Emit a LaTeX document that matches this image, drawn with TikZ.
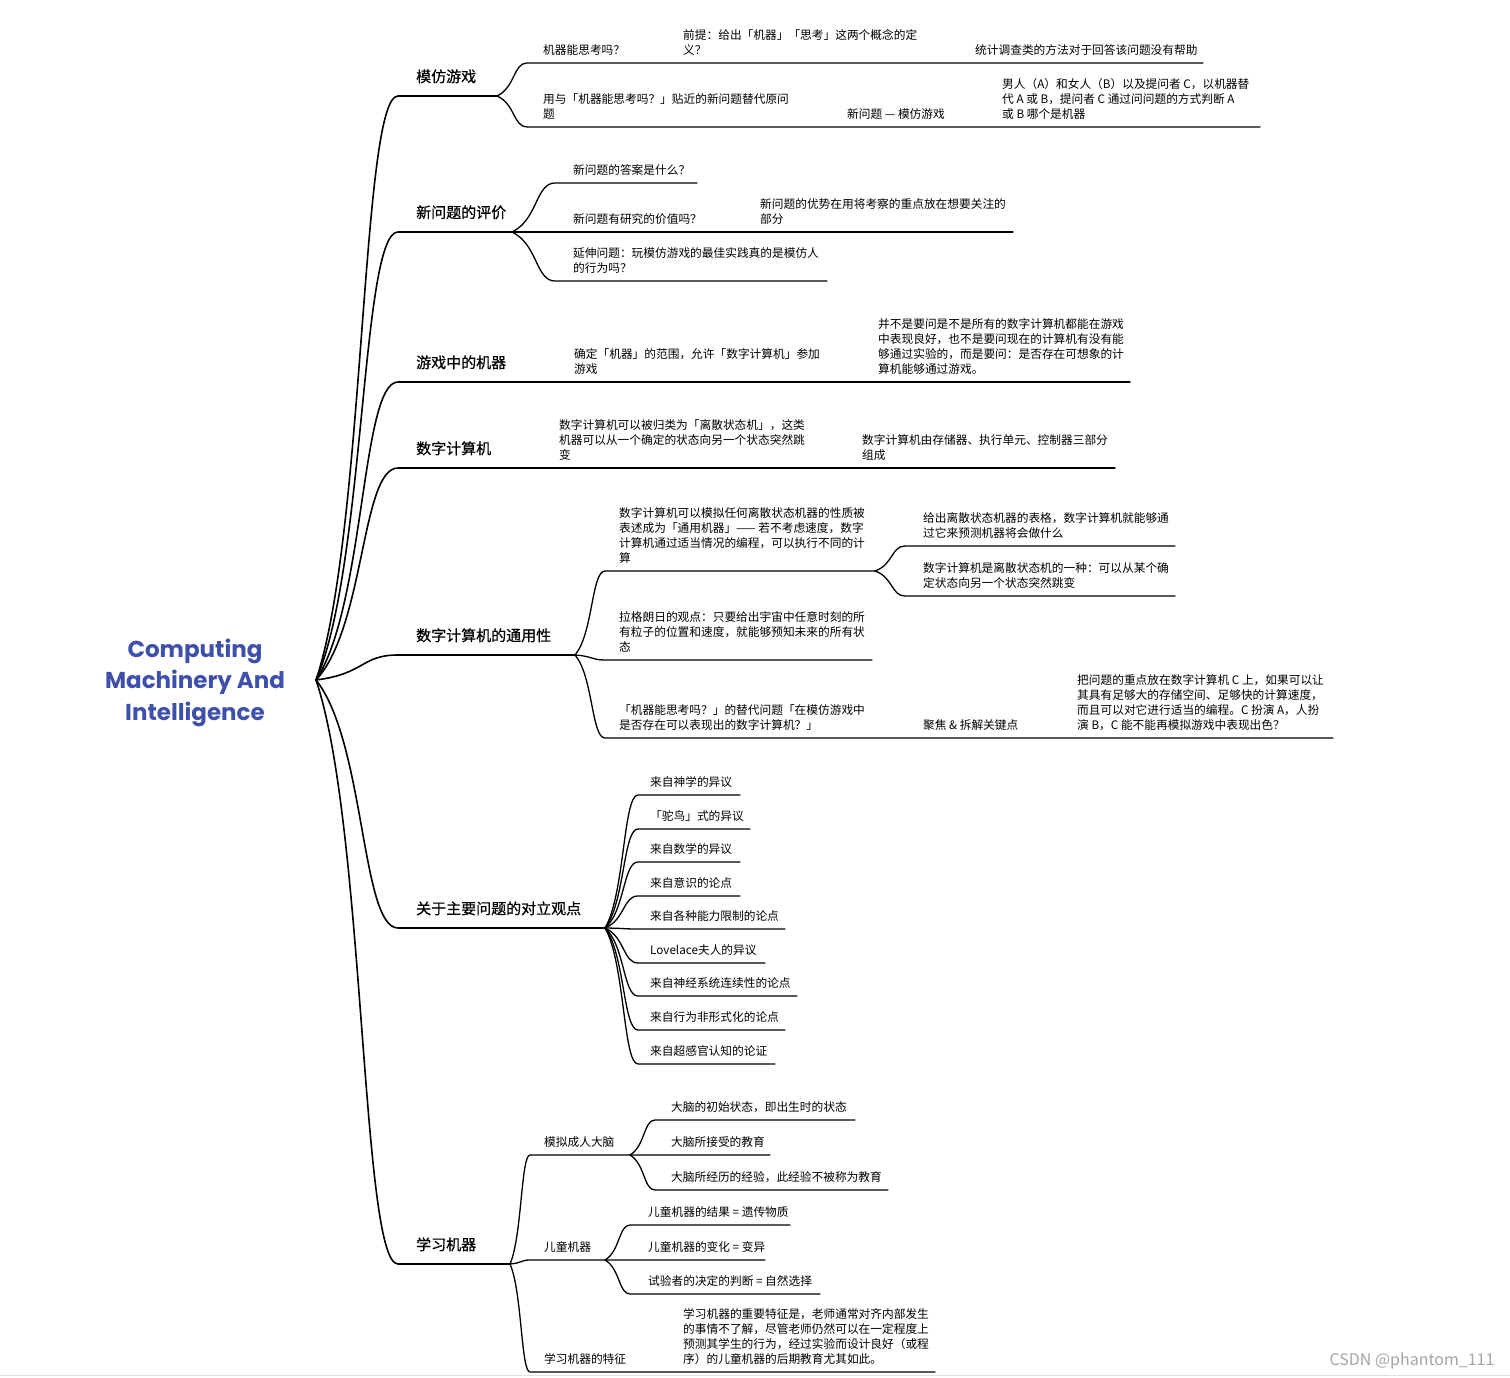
\documentclass[tikz,border=0pt]{standalone}
\usepackage{fontspec}
\setmainfont{Noto Sans CJK SC}
\newfontfamily\lonefont[FakeBold=0.6]{Noto Sans CJK SC}
\newfontfamily\titlefont{Poppins}
\usetikzlibrary{calc}
\definecolor{titleblue}{RGB}{62,80,170}
\tikzset{
  br/.style={to path={let \p1=(\tikztostart),\p2=(\tikztotarget) in
     .. controls ({\x1+0.6*(\x2-\x1)},{\y1+0.25*(\y2-\y1)}) and ({\x1+0.55*(\x2-\x1)},{\y2}) .. (\tikztotarget)}},
  mainln/.style={line width=1.6pt, line cap=round},
  ln/.style={line width=1.3pt, line cap=round},
  lone/.style={font=\lonefont\fontsize{15}{18}\selectfont, anchor=south west, inner sep=0pt},
  tx/.style={font=\fontsize{11.7}{15}\selectfont, anchor=south west, inner sep=0pt, align=left},
  titlenode/.style={font=\titlefont\bfseries\fontsize{23}{31.5}\selectfont, text=titleblue, align=center, inner sep=0pt},
  wmark/.style={font=\fontsize{16}{18}\selectfont, text=black!35, inner sep=0pt}
}
\begin{document}
\begin{tikzpicture}[x=1pt,y=-1pt]
\useasboundingbox (0,0) rectangle (1510,1378);
\fill[white] (0,0) rectangle (1510,1378);

% root
\node[titlenode] (root) at (195,682.5) {Computing\\Machinery And\\Intelligence};
\coordinate (r) at (316,680);

% level-1 coordinates
\coordinate (a1) at (398,96);   \coordinate (a1e) at (497,96);
\coordinate (a2) at (398,232);  \coordinate (a2e) at (512,232);  \coordinate (b22e) at (1013,232);
\coordinate (a3) at (398,382);  \coordinate (a3m) at (512,382);  \coordinate (a3e) at (1130,382);
\coordinate (a4) at (398,468);  \coordinate (a4m) at (510,468);  \coordinate (a4e) at (1115,468);
\coordinate (a5) at (398,655);  \coordinate (a5e) at (575,655);
\coordinate (a6) at (398,928);  \coordinate (a6e) at (605,928);
\coordinate (a7) at (398,1264); \coordinate (a7e) at (510,1264);

\draw[mainln] (r) to[br] (a1) -- (a1e);
\draw[mainln] (r) to[br] (a2) -- (a2e);
\draw[mainln] (r) to[br] (a3) -- (a3m);
\draw[mainln] (r) to[br] (a4) -- (a4m);
\draw[mainln] (r) to[br] (a5) -- (a5e);
\draw[mainln] (r) to[br] (a6) -- (a6e);
\draw[mainln] (r) to[br] (a7) -- (a7e);

\node[lone] (t1) at (416,83.5) {模仿游戏};
\node[lone] (t2) at (416,219.5) {新问题的评价};
\node[lone] (t3) at (416,369.5) {游戏中的机器};
\node[lone] (t4) at (416,455.5) {数字计算机};
\node[lone] (t5) at (416,642.5) {数字计算机的通用性};
\node[lone] (t6) at (416,915.5) {关于主要问题的对立观点};
\node[lone] (t7) at (416,1251.5) {学习机器};

% branch 1
\coordinate (b11) at (527,63);  \coordinate (b11e) at (1203,63);
\coordinate (b12) at (527,127); \coordinate (b12e) at (1260,127);
\draw[ln] (a1e) to[br] (b11) -- (b11e);
\draw[ln] (a1e) to[br] (b12) -- (b12e);
\node[tx] (n11) at (543,55.5) {机器能思考吗？};
\node[tx] (n111) at (683,55.5) {前提：给出「机器」「思考」这两个概念的定\\义？};
\node[tx] (n1111) at (975,55.5) {统计调查类的方法对于回答该问题没有帮助};
\node[tx] (n12) at (543,119.5) {用与「机器能思考吗？」贴近的新问题替代原问\\题};
\node[tx] (n121) at (847,119.5) {新问题 — 模仿游戏};
\node[tx] (n1211) at (1002,119.5) {男人（A）和女人（B）以及提问者 C，以机器替\\代 A 或 B，提问者 C 通过问问题的方式判断 A\\或 B 哪个是机器};

% branch 2
\coordinate (b21) at (555,183); \coordinate (b21e) at (697,183);
\coordinate (b23) at (555,281); \coordinate (b23e) at (827,281);
\draw[ln] (a2e) to[br] (b21) -- (b21e);
\draw[ln] (a2e) -- (b22e);
\draw[ln] (a2e) to[br] (b23) -- (b23e);
\node[tx] (n21) at (573,175.5) {新问题的答案是什么？};
\node[tx] (n22) at (573,224.5) {新问题有研究的价值吗？};
\node[tx] (n221) at (760,224.5) {新问题的优势在用将考察的重点放在想要关注的\\部分};
\node[tx] (n23) at (573,273.5) {延伸问题：玩模仿游戏的最佳实践真的是模仿人\\的行为吗？};

% branch 3
\draw[ln] (a3m) -- (a3e);
\node[tx] (n31) at (574,374.5) {确定「机器」的范围，允许「数字计算机」参加\\游戏};
\node[tx] (n311) at (878,374.5) {并不是要问是不是所有的数字计算机都能在游戏\\中表现良好，也不是要问现在的计算机有没有能\\够通过实验的，而是要问：是否存在可想象的计\\算机能够通过游戏。};

% branch 4
\draw[ln] (a4m) -- (a4e);
\node[tx] (n41) at (559,460.5) {数字计算机可以被归类为「离散状态机」，这类\\机器可以从一个确定的状态向另一个状态突然跳\\变};
\node[tx] (n411) at (862,460.5) {数字计算机由存储器、执行单元、控制器三部分\\组成};

% branch 5
\coordinate (b51) at (605,571); \coordinate (b51e) at (875,571);
\coordinate (b52) at (605,660); \coordinate (b52e) at (872,660);
\coordinate (b53) at (605,738); \coordinate (b53e) at (1333,738);
\coordinate (c511) at (905,546); \coordinate (c511e) at (1175,546);
\coordinate (c512) at (905,596); \coordinate (c512e) at (1175,596);
\draw[ln] (a5e) to[br] (b51) -- (b51e);
\draw[ln] (a5e) to[br] (b52) -- (b52e);
\draw[ln] (a5e) to[br] (b53) -- (b53e);
\draw[ln] (b51e) to[br] (c511) -- (c511e);
\draw[ln] (b51e) to[br] (c512) -- (c512e);
\node[tx] (n51) at (619,563.5) {数字计算机可以模拟任何离散状态机器的性质被\\表述成为「通用机器」—— 若不考虑速度，数字\\计算机通过适当情况的编程，可以执行不同的计\\算};
\node[tx] (n511) at (923,538.5) {给出离散状态机器的表格，数字计算机就能够通\\过它来预测机器将会做什么};
\node[tx] (n512) at (923,588.5) {数字计算机是离散状态机的一种：可以从某个确\\定状态向另一个状态突然跳变};
\node[tx] (n52) at (619,652.5) {拉格朗日的观点：只要给出宇宙中任意时刻的所\\有粒子的位置和速度，就能够预知未来的所有状\\态};
\node[tx] (n53) at (619,730.5) {「机器能思考吗？」的替代问题「在模仿游戏中\\是否存在可以表现出的数字计算机？」};
\node[tx] (n531) at (923,730.5) {聚焦 \& 拆解关键点};
\node[tx] (n5311) at (1077,730.5) {把问题的重点放在数字计算机 C 上，如果可以让\\其具有足够大的存储空间、足够快的计算速度，\\而且可以对它进行适当的编程。C 扮演 A，人扮\\演 B，C 能不能再模拟游戏中表现出色？};

% branch 6
\coordinate (b61) at (638,795);  \coordinate (b61e) at (740,795);
\coordinate (b62) at (638,829);  \coordinate (b62e) at (750,829);
\coordinate (b63) at (638,862);  \coordinate (b63e) at (740,862);
\coordinate (b64) at (638,896);  \coordinate (b64e) at (740,896);
\coordinate (b65) at (638,929);  \coordinate (b65e) at (785,929);
\coordinate (b66) at (638,963);  \coordinate (b66e) at (765,963);
\coordinate (b67) at (638,996);  \coordinate (b67e) at (797,996);
\coordinate (b68) at (638,1030); \coordinate (b68e) at (785,1030);
\coordinate (b69) at (638,1064); \coordinate (b69e) at (775,1064);
\foreach \k in {1,...,9} { \draw[ln] (a6e) to[br] (b6\k) -- (b6\k e); }
\node[tx] (n61) at (650,787.5) {来自神学的异议};
\node[tx] (n62) at (650,821.5) {「驼鸟」式的异议};
\node[tx] (n63) at (650,854.5) {来自数学的异议};
\node[tx] (n64) at (650,888.5) {来自意识的论点};
\node[tx] (n65) at (650,921.5) {来自各种能力限制的论点};
\node[tx] (n66) at (650,955.5) {Lovelace夫人的异议};
\node[tx] (n67) at (650,988.5) {来自神经系统连续性的论点};
\node[tx] (n68) at (650,1022.5) {来自行为非形式化的论点};
\node[tx] (n69) at (650,1056.5) {来自超感官认知的论证};

% branch 7
\coordinate (b71) at (530,1155); \coordinate (b71m) at (630,1155); \coordinate (b71e) at (770,1155);
\coordinate (b72) at (530,1260); \coordinate (b72m) at (605,1260); \coordinate (b72e) at (765,1260);
\coordinate (b73) at (530,1372); \coordinate (b73e) at (935,1372);
\coordinate (c711) at (655,1120); \coordinate (c711e) at (855,1120);
\coordinate (c713) at (655,1190); \coordinate (c713e) at (888,1190);
\coordinate (c721) at (630,1225); \coordinate (c721e) at (790,1225);
\coordinate (c723) at (630,1294); \coordinate (c723e) at (820,1294);
\draw[ln] (a7e) to[br] (b71) -- (b71e);
\draw[ln] (a7e) to[br] (b72) -- (b72e);
\draw[ln] (a7e) to[br] (b73) -- (b73e);
\draw[ln] (b71m) to[br] (c711) -- (c711e);
\draw[ln] (b71m) to[br] (c713) -- (c713e);
\draw[ln] (b72m) to[br] (c721) -- (c721e);
\draw[ln] (b72m) to[br] (c723) -- (c723e);
\node[tx] (n71) at (544,1147.5) {模拟成人大脑};
\node[tx] (n711) at (671,1112.5) {大脑的初始状态，即出生时的状态};
\node[tx] (n712) at (671,1147.5) {大脑所接受的教育};
\node[tx] (n713) at (671,1182.5) {大脑所经历的经验，此经验不被称为教育};
\node[tx] (n72) at (544,1252.5) {儿童机器};
\node[tx] (n721) at (648,1217.5) {儿童机器的结果 = 遗传物质};
\node[tx] (n722) at (648,1252.5) {儿童机器的变化 = 变异};
\node[tx] (n723) at (648,1286.5) {试验者的决定的判断 = 自然选择};
\node[tx] (n73) at (544,1364.5) {学习机器的特征};
\node[tx] (n731) at (683,1364.5) {学习机器的重要特征是，老师通常对齐内部发生\\的事情不了解，尽管老师仍然可以在一定程度上\\预测其学生的行为，经过实验而设计良好（或程\\序）的儿童机器的后期教育尤其如此。};

% page edge and watermark
\coordinate (pl) at (0,1375); \coordinate (pr) at (1510,1375);
\draw[black!12, line width=1pt] (pl) -- (pr);
\node[wmark] (wm) at (1412,1361) {CSDN @phantom\_111};
\end{tikzpicture}
\end{document}
